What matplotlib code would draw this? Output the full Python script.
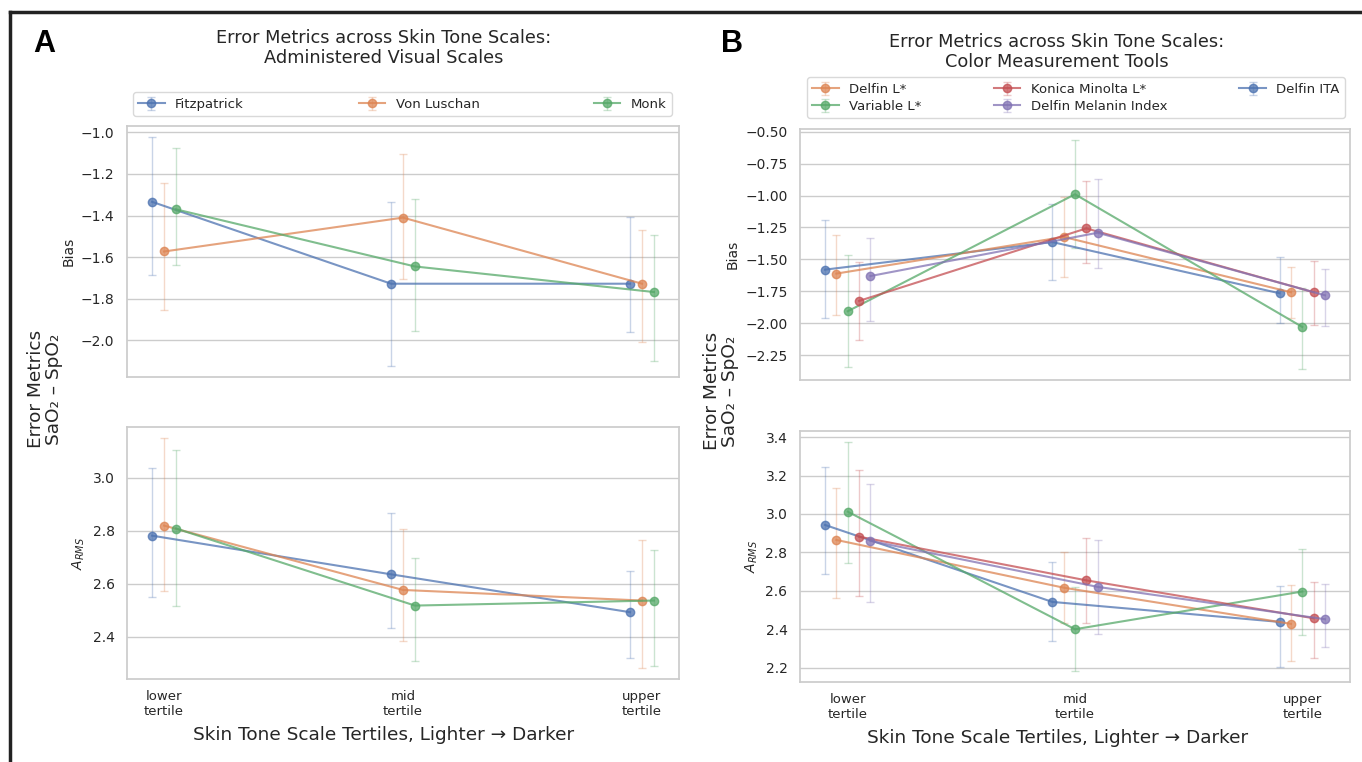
import matplotlib
matplotlib.use('Agg')
import matplotlib.pyplot as plt
import numpy as np
from matplotlib.lines import Line2D

# ---------------- data ----------------
tertiles = ["lower\ntertile", "mid\ntertile", "upper\ntertile"]

# Panel A: administered visual scales
visual_scales = ["Fitzpatrick", "Von Luschan", "Monk"]
visual_colors = ["#4C72B0", "#DD8452", "#55A868"]

bias_vis_mean = [[-1.334, -1.728, -1.728],
                 [-1.573, -1.410, -1.728],
                 [-1.370, -1.645, -1.768]]
bias_vis_lo = [[-1.685, -2.122, -1.962],
               [-1.853, -1.706, -2.008],
               [-1.640, -1.954, -2.102]]
bias_vis_hi = [[-1.024, -1.334, -1.405],
               [-1.242, -1.106, -1.469],
               [-1.074, -1.318, -1.493]]

arms_vis_mean = [[2.781, 2.635, 2.492],
                 [2.819, 2.576, 2.536],
                 [2.808, 2.517, 2.536]]
arms_vis_lo = [[2.548, 2.433, 2.318],
               [2.572, 2.384, 2.283],
               [2.515, 2.307, 2.289]]
arms_vis_hi = [[3.035, 2.865, 2.649],
               [3.148, 2.806, 2.764],
               [3.104, 2.697, 2.725]]

# Panel B: color measurement tools (plotting / dodge order)
tools = ["Delfin ITA", "Delfin L*", "Variable L*", "Konica Minolta L*", "Delfin Melanin Index"]
tool_colors = ["#4C72B0", "#DD8452", "#55A868", "#C44E52", "#8172B3"]
tool_legend_order = ["Delfin L*", "Variable L*", "Konica Minolta L*", "Delfin Melanin Index", "Delfin ITA"]

bias_tool_mean = [[-1.580, -1.364, -1.765],
                  [-1.611, -1.324, -1.757],
                  [-1.906, -0.990, -2.029],
                  [-1.825, -1.257, -1.757],
                  [-1.630, -1.291, -1.781]]
bias_tool_lo = [[-1.956, -1.664, -2.000],
                [-1.935, -1.638, -1.960],
                [-2.345, -1.410, -2.355],
                [-2.131, -1.525, -2.016],
                [-1.985, -1.564, -2.021]]
bias_tool_hi = [[-1.189, -1.064, -1.481],
                [-1.306, -1.010, -1.559],
                [-1.467, -0.568, -1.720],
                [-1.519, -0.889, -1.512],
                [-1.330, -0.870, -1.575]]

arms_tool_mean = [[2.943, 2.543, 2.439],
                  [2.865, 2.617, 2.429],
                  [3.012, 2.401, 2.597],
                  [2.882, 2.655, 2.458],
                  [2.860, 2.621, 2.453]]
arms_tool_lo = [[2.690, 2.339, 2.203],
                [2.562, 2.433, 2.235],
                [2.744, 2.186, 2.373],
                [2.576, 2.435, 2.250],
                [2.545, 2.377, 2.307]]
arms_tool_hi = [[3.246, 2.751, 2.624],
                [3.133, 2.801, 2.629],
                [3.372, 2.620, 2.818],
                [3.228, 2.875, 2.645],
                [3.156, 2.863, 2.636]]

# ---------------- style ----------------
plt.rcParams.update({
    'font.family': ['DejaVu Sans'],
    'axes.edgecolor': '#cccccc',
    'axes.linewidth': 1.25,
    'grid.color': '#cccccc',
    'grid.linewidth': 1.0,
    'text.color': '#262626',
    'axes.labelcolor': '#262626',
    'xtick.color': '#262626',
    'ytick.color': '#262626',
    'xtick.major.size': 0,
    'ytick.major.size': 0,
    'xtick.labelsize': 9.5,
    'ytick.labelsize': 10,
    'ytick.major.pad': 9,
})

W, H = 1362, 762
fig = plt.figure(figsize=(W / 100, H / 100), dpi=100)


def fx(px):
    return px / W


def fy(py):
    return 1 - py / H


def add_ax(x0, x1, y0, y1):
    return fig.add_axes([fx(x0), fy(y1), fx(x1) - fx(x0), (y1 - y0) / H])


def draw(ax, means, los, his, colors, step):
    n = len(means)
    offs = (np.arange(n) - (n - 1) / 2) * step
    handles = []
    for i in range(n):
        m = np.array(means[i]); lo = np.array(los[i]); hi = np.array(his[i])
        x = np.arange(len(tertiles)) + offs[i]
        c = ax.errorbar(x, m, yerr=[m - lo, hi - m], fmt='-o', color=colors[i],
                        lw=1.5, ms=6, elinewidth=1.0, capsize=3, capthick=1.0)
        c.lines[0].set_alpha(0.75)
        for cl in c.lines[1]:
            cl.set_alpha(0.3)
        for bl in c.lines[2]:
            bl.set_alpha(0.3)
        handles.append(c)
    ax.set_xticks(np.arange(len(tertiles)))
    ax.set_axisbelow(True)
    ax.grid(True, axis='y')
    ax.grid(False, axis='x')
    ax.tick_params(axis='x', pad=8)
    return handles


def minus_fmt(fmt):
    return matplotlib.ticker.FuncFormatter(lambda v, p: (fmt % v).replace('-', '\u2212'))


# Panel A
axA1 = add_ax(127, 679, 126, 377)
axA2 = add_ax(127, 679, 427, 679)
hA = draw(axA1, bias_vis_mean, bias_vis_lo, bias_vis_hi, visual_colors, 0.05)
draw(axA2, arms_vis_mean, arms_vis_lo, arms_vis_hi, visual_colors, 0.05)
for ax in (axA1, axA2):
    ax.set_xlim(-0.155, 2.155)
axA1.set_xticklabels([])
axA2.set_xticklabels(tertiles, fontsize=9.5)
axA1.set_ylabel('Bias', fontsize=10)
axA2.set_ylabel('$A_{RMS}$', fontsize=10)
axA1.yaxis.set_major_formatter(minus_fmt('%.1f'))
axA2.yaxis.set_major_formatter(minus_fmt('%.1f'))

# Panel B
axB1 = add_ax(800, 1350, 129, 380)
axB2 = add_ax(800, 1350, 431, 682)
hB = draw(axB1, bias_tool_mean, bias_tool_lo, bias_tool_hi, tool_colors, 0.05)
draw(axB2, arms_tool_mean, arms_tool_lo, arms_tool_hi, tool_colors, 0.05)
for ax in (axB1, axB2):
    ax.set_xlim(-0.21, 2.21)
axB1.set_xticklabels([])
axB2.set_xticklabels(tertiles, fontsize=9.5)
axB1.set_ylabel('Bias', fontsize=10)
axB2.set_ylabel('$A_{RMS}$', fontsize=10)
axB1.yaxis.set_major_formatter(minus_fmt('%.2f'))
axB2.yaxis.set_major_formatter(minus_fmt('%.1f'))

# legends
fig.legend(hA, visual_scales, loc='lower left', mode='expand', ncol=3,
           bbox_to_anchor=(fx(133), fy(116), fx(672) - fx(133), 24 / H),
           bbox_transform=fig.transFigure, borderaxespad=0, fontsize=9.5,
           frameon=True, edgecolor='#d0d0d0', handlelength=2.0)
hB_map = dict(zip(tools, hB))
fig.legend([hB_map[t] for t in tool_legend_order], tool_legend_order,
           loc='lower left', mode='expand', ncol=3,
           bbox_to_anchor=(fx(807), fy(118), fx(1345) - fx(807), 42 / H),
           bbox_transform=fig.transFigure, borderaxespad=0, fontsize=9.5,
           frameon=True, edgecolor='#d0d0d0', handlelength=2.0,
           labelspacing=0.3)

# titles, labels
fig.text(fx(384), fy(48), 'Error Metrics across Skin Tone Scales:\nAdministered Visual Scales',
         ha='center', va='center', fontsize=12.8, linespacing=1.15)
fig.text(fx(1057), fy(52), 'Error Metrics across Skin Tone Scales:\nColor Measurement Tools',
         ha='center', va='center', fontsize=12.8, linespacing=1.15)
fig.text(fx(384), fy(735), 'Skin Tone Scale Tertiles, Lighter \u2192 Darker',
         ha='center', va='center', fontsize=13.3)
fig.text(fx(1058), fy(738), 'Skin Tone Scale Tertiles, Lighter \u2192 Darker',
         ha='center', va='center', fontsize=13.3)
fig.text(fx(45), fy(389), 'Error Metrics\nSaO\u2082 \u2013 SpO\u2082', rotation=90,
         ha='center', va='center', fontsize=13.3, multialignment='center', linespacing=1.0)
fig.text(fx(721), fy(391), 'Error Metrics\nSaO\u2082 \u2013 SpO\u2082', rotation=90,
         ha='center', va='center', fontsize=13.3, multialignment='center', linespacing=1.0)

fig.text(fx(33), fy(44), 'A', fontsize=22, fontweight='bold',
         family=['Liberation Sans', 'DejaVu Sans'], ha='left', va='center', color='black')
fig.text(fx(721), fy(44), 'B', fontsize=22, fontweight='bold',
         family=['Liberation Sans', 'DejaVu Sans'], ha='left', va='center', color='black')

# outer frame lines
fig.add_artist(Line2D([fx(10), 1.0], [fy(12), fy(12)], transform=fig.transFigure,
                      color='#222222', lw=2.5))
fig.add_artist(Line2D([fx(10), fx(10)], [0.0, fy(12)], transform=fig.transFigure,
                      color='#222222', lw=2.5))

fig.savefig('out.png', dpi=100)
